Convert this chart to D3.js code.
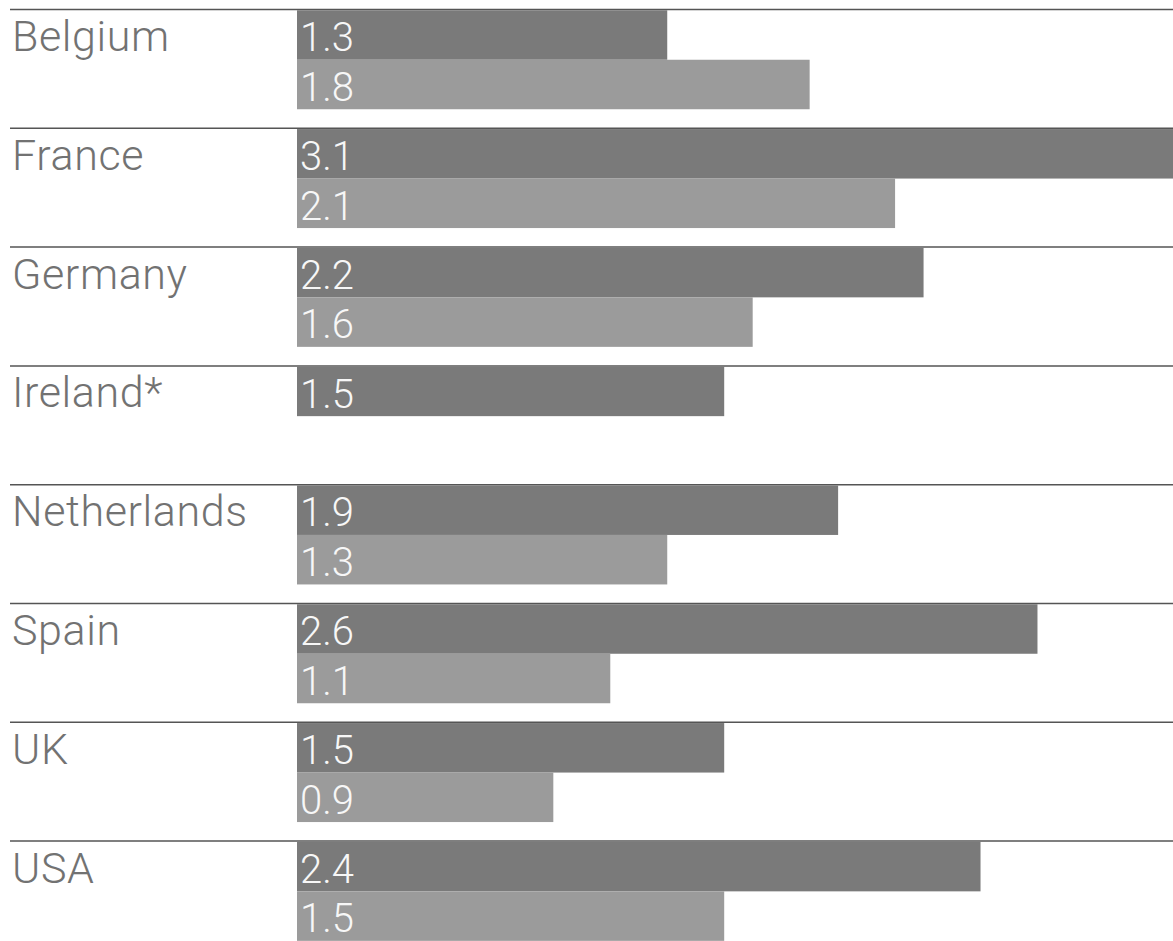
<!DOCTYPE html>
<html>
<head>
<meta charset="utf-8">
<script src="https://cdn.jsdelivr.net/npm/d3@7"></script>
<style>
  html, body { margin: 0; padding: 0; background: #fff; overflow: hidden; }
  svg { display: block; }
  text { font-family: Roboto, "Liberation Sans", sans-serif; font-weight: 300; }
</style>
</head>
<body>
<svg id="chart" width="1173" height="941"></svg>
<script>
const countries = ["Belgium", "France", "Germany", "Ireland*", "Netherlands", "Spain", "UK", "USA"];
const seriesA = [1.3, 3.1, 2.2, 1.5, 1.9, 2.6, 1.5, 2.4];
const seriesB = [1.8, 2.1, 1.6, null, 1.3, 1.1, 0.9, 1.5];

const W = 1173, H = 941;
const svg = d3.select("#chart");

const rowY = d3.scaleBand().domain(countries).range([9.5, 9.5 + 118.8 * countries.length]).paddingInner(0).paddingOuter(0);
const x = d3.scaleLinear().domain([0, 1]).range([297, 297 + 284.8]);
const barH = 49.5;

const rows = svg.selectAll("g.row").data(countries).join("g")
  .attr("class", "row")
  .attr("transform", d => `translate(0,${rowY(d)})`);

rows.append("line")
  .attr("x1", 10).attr("x2", W).attr("y1", 0).attr("y2", 0)
  .attr("stroke", "#555").attr("stroke-width", 1.5);

rows.append("text")
  .attr("x", 12).attr("y", 41.5)
  .attr("font-size", 43).attr("letter-spacing", 0.6).attr("fill", "#727272")
  .text(d => d);

const series = [
  { vals: seriesA, color: "#7a7a7a", off: 0.75 },
  { vals: seriesB, color: "#9b9b9b", off: 0.75 + barH }
];

series.forEach(s => {
  const data = countries.map((c, i) => ({ c, v: s.vals[i] })).filter(d => d.v != null);
  svg.selectAll(null).data(data).join("rect")
    .attr("x", x(0))
    .attr("y", d => rowY(d.c) + s.off)
    .attr("width", d => x(d.v) - x(0))
    .attr("height", barH)
    .attr("fill", s.color);
  svg.selectAll(null).data(data).join("text")
    .attr("x", x(0) + 3)
    .attr("y", d => rowY(d.c) + s.off + barH - 8.5)
    .attr("font-size", 40).attr("fill", "#f7f7f7")
    .text(d => d.v.toFixed(1));
});
</script>
</body>
</html>
